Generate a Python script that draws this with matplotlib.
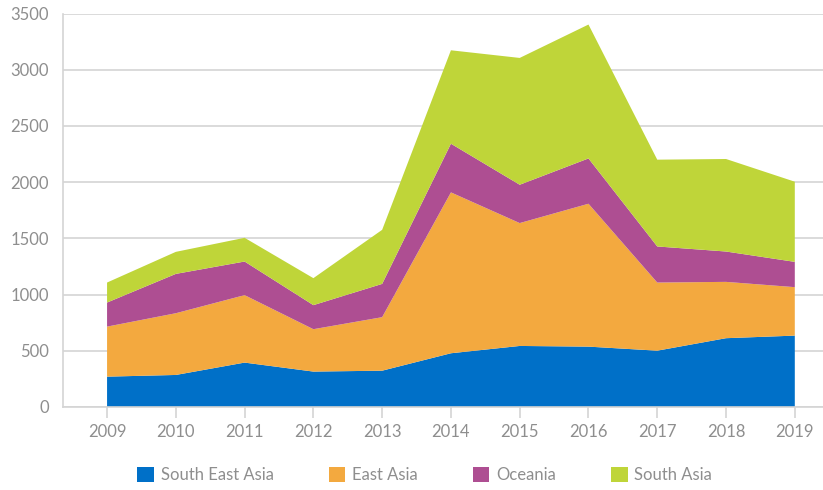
import matplotlib.pyplot as plt
from matplotlib.patches import Patch

years = [2009, 2010, 2011, 2012, 2013, 2014, 2015, 2016, 2017, 2018, 2019]
south_east_asia = [270, 285, 395, 315, 323, 478, 543, 537, 501, 612, 635]
east_asia = [445, 549, 600, 377, 476, 1431, 1093, 1271, 606, 501, 431]
oceania = [214, 350, 299, 214, 296, 433, 341, 403, 321, 270, 225]
south_asia = [178, 196, 211, 240, 481, 831, 1128, 1191, 772, 823, 713]

labels = ["South East Asia", "East Asia", "Oceania", "South Asia"]
colors = ["#0070C8", "#F3A93F", "#AE4E92", "#BFD539"]

plt.rcParams['font.family'] = ['Lato', 'DejaVu Sans']
plt.rcParams['font.weight'] = 'normal'

fig = plt.figure(figsize=(8.23, 4.9), dpi=100)
ax = fig.add_axes([0.0766, 0.1694, 0.9234, 0.803])

ax.stackplot(years, south_east_asia, east_asia, oceania, south_asia,
             colors=colors, labels=labels, linewidth=0)

ax.set_xlim(2008.36, 2019.41)
ax.set_ylim(0, 3500)
ax.set_yticks(range(0, 3501, 500))
ax.set_xticks(years)

grey = "#d4d4d4"
text_grey = "#8e8e8e"
ax.yaxis.grid(True, color=grey, linewidth=1.2)
ax.set_axisbelow(True)
for s in ["top", "right"]:
    ax.spines[s].set_visible(False)
for s in ["left", "bottom"]:
    ax.spines[s].set_color(grey)
    ax.spines[s].set_linewidth(1.2)

ax.tick_params(axis='y', length=0, pad=10, labelsize=12, labelcolor=text_grey)
ax.tick_params(axis='x', length=8, width=1.2, color=grey, pad=4,
               labelsize=12, labelcolor=text_grey)

handles = [Patch(facecolor=c, edgecolor='none') for c in colors]
fig.legend(handles, labels, loc='center', bbox_to_anchor=(0.516, 0.030), ncol=4,
           frameon=False, fontsize=12, labelcolor=text_grey,
           handlelength=1.0, handleheight=1.0, handletextpad=0.4,
           columnspacing=3.3)

fig.savefig("out.png", dpi=100)
